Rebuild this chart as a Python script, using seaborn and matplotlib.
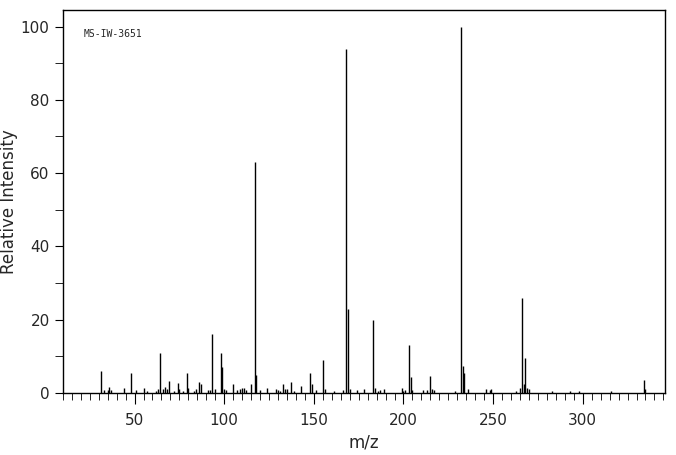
import matplotlib
matplotlib.use("Agg")
import matplotlib.pyplot as plt
import seaborn as sns
from matplotlib.ticker import MultipleLocator

mz = [31, 33, 35, 36, 37, 44, 48, 51, 55, 57, 62, 63, 64, 66, 67, 68, 69, 72, 74, 75, 77, 79, 80, 83, 84, 86, 87, 91, 92, 93, 95,
      98, 99, 100, 101, 105, 107, 109, 110, 111, 112, 115, 117, 118, 120, 124, 129, 130, 131, 133, 134, 135, 137, 139, 143,
      148, 149, 151, 155, 156, 161, 166, 168, 169, 170, 174, 178, 183, 184, 186, 187, 189, 199, 200, 201, 203, 204, 205,
      211, 213, 215, 216, 217, 229, 232, 233, 234, 236, 246, 248, 249, 263, 265, 266, 267, 268, 269, 270, 283, 293, 298, 316,
      334, 335]
inten = [6, 0.8, 0.8, 1.8, 0.8, 1.5, 5.5, 0.8, 1.5, 0.6, 0.6, 1.2, 11, 1.2, 1.6, 1.2, 3.3, 0.6, 2.8, 1.0, 0.6, 5.5, 1.5, 0.6, 1.2, 3, 2.5, 0.8, 0.8, 16, 1.2,
         11, 7, 1.2, 0.8, 2.5, 0.8, 1.2, 1.5, 1.5, 0.8, 2.5, 63, 5, 0.8, 1.5, 1.0, 0.8, 0.6, 2.5, 1.0, 1.2, 3, 0.6, 2,
         5.5, 2.5, 0.8, 9, 1.0, 0.6, 0.8, 94, 23, 1.2, 0.8, 1.0, 20, 1.5, 0.6, 0.8, 1.0, 1.5, 0.6, 0.8, 13, 4.5, 0.8,
         0.8, 0.8, 4.7, 1.0, 0.8, 0.6, 100, 7.5, 5.5, 1.0, 1.2, 0.8, 1.2, 0.6, 1.5, 26, 2.5, 9.5, 1.5, 1.0, 0.5, 0.6, 0.5, 0.5,
         3.5, 1.0]
label = "MS-IW-3651"

sns.set_style("ticks")
plt.rcParams['font.family'] = ['DejaVu Sans']
fig, ax = plt.subplots(figsize=(6.76, 4.55), dpi=100)
fig.subplots_adjust(left=0.093, right=0.984, top=0.978, bottom=0.136)
ax.vlines(mz, 0, inten, color="black", linewidth=1)
ax.set_xlim(10, 346)
ax.set_ylim(0, 104.5)
ax.xaxis.set_major_locator(MultipleLocator(50))
ax.xaxis.set_minor_locator(MultipleLocator(5))
ax.yaxis.set_major_locator(MultipleLocator(20))
ax.yaxis.set_minor_locator(MultipleLocator(10))
ax.tick_params(axis="x", which="major", direction="out", length=8, labelsize=11, pad=6, color="black")
ax.tick_params(axis="x", which="minor", direction="out", length=5, color="black")
ax.tick_params(axis="y", which="both", direction="out", length=6, labelsize=11, color="black")
for s in ax.spines.values():
    s.set_linewidth(1)
    s.set_color("black")
ax.set_xlabel("m/z", fontsize=12, labelpad=4)
ax.set_ylabel("Relative Intensity", fontsize=12, labelpad=2)
ax.text(0.035, 0.93, label, transform=ax.transAxes, fontsize=7, family="DejaVu Sans Mono")
fig.savefig("out.png", dpi=100)
